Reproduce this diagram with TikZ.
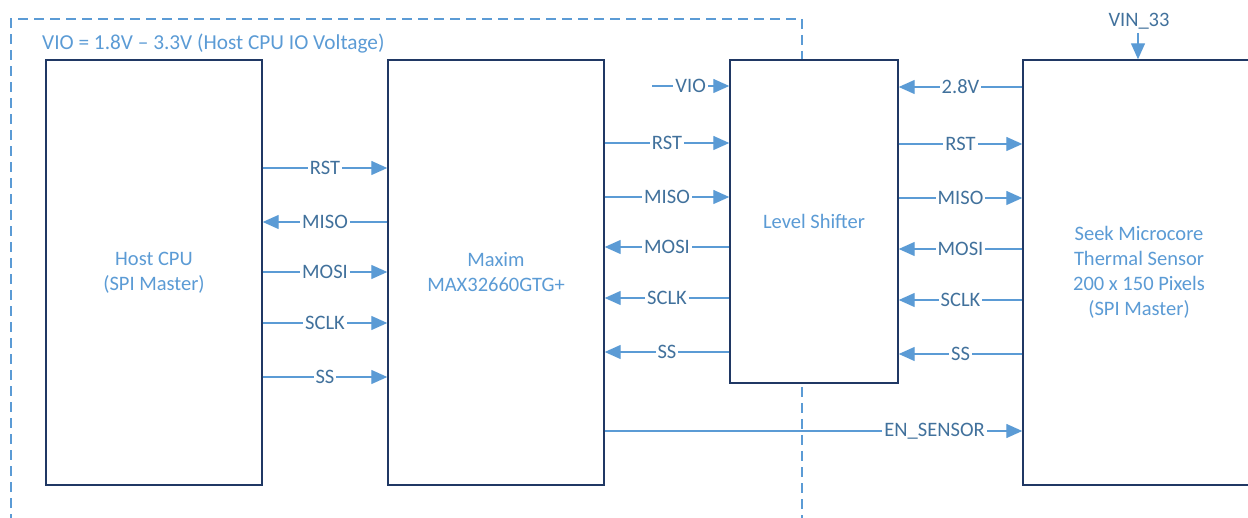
\documentclass[tikz,border=0pt]{standalone}
\usepackage{fontspec}
\setmainfont{Carlito}
\usetikzlibrary{arrows.meta}
\definecolor{navy}{HTML}{203864}
\definecolor{lblue}{HTML}{5B9BD5}
\definecolor{dblue}{HTML}{41719C}
\tikzset{
  blk/.style={draw=navy, line width=1.4pt, fill=white, align=center, text=lblue,
    font=\fontsize{20.5}{25}\selectfont, inner sep=0pt},
  sig/.style={draw=lblue, line width=1.3pt, -{Triangle[length=16pt,width=14pt]}},
  lab/.style={fill=white, text=dblue, inner sep=2pt, font=\fontsize{20.5}{24}\selectfont},
  zone/.style={draw=lblue, line width=1.2pt, dash pattern=on 10pt off 6pt}
}
\begin{document}
\begin{tikzpicture}[x=1pt,y=-1pt]
\useasboundingbox (0,0) rectangle (1248,518);
% dashed zone
\draw[zone] (11,540) -- (11,19) -- (802,19) -- (802,540);
\node[anchor=west, text=lblue, inner sep=0pt, font=\fontsize{21.3}{24}\selectfont] (zonelabel) at (42,44) {VIO = 1.8V – 3.3V (Host CPU IO Voltage)};
% blocks
\node[blk, minimum width=216pt, minimum height=425pt] (host) at (154,272.5) {Host CPU\\(SPI Master)};
\node[blk, minimum width=216pt, minimum height=425pt] (maxim) at (496,272.5) {Maxim\\MAX32660GTG+};
\node[blk, minimum width=168pt, minimum height=323pt] (ls) at (814,221.5) {Level Shifter};
\node[blk, minimum width=232pt, minimum height=425pt] (sensor) at (1139,272.5) {Seek Microcore\\Thermal Sensor\\200 x 150 Pixels\\(SPI Master)};
% host <-> maxim
\draw[sig] (host.east |- 0,168) -- node[lab]{RST} (maxim.west |- 0,168);
\draw[sig] (maxim.west |- 0,222) -- node[lab]{MISO} (host.east |- 0,222);
\draw[sig] (host.east |- 0,272) -- node[lab]{MOSI} (maxim.west |- 0,272);
\draw[sig] (host.east |- 0,323) -- node[lab]{SCLK} (maxim.west |- 0,323);
\draw[sig] (host.east |- 0,377) -- node[lab]{SS} (maxim.west |- 0,377);
% maxim <-> level shifter
\coordinate (vioin) at (652,86);
\draw[sig] (vioin) -- node[lab]{VIO} (ls.west |- vioin);
\draw[sig] (maxim.east |- 0,143) -- node[lab]{RST} (ls.west |- 0,143);
\draw[sig] (maxim.east |- 0,197) -- node[lab]{MISO} (ls.west |- 0,197);
\draw[sig] (ls.west |- 0,247) -- node[lab]{MOSI} (maxim.east |- 0,247);
\draw[sig] (ls.west |- 0,298) -- node[lab]{SCLK} (maxim.east |- 0,298);
\draw[sig] (ls.west |- 0,352) -- node[lab]{SS} (maxim.east |- 0,352);
% level shifter <-> sensor
\draw[sig] (sensor.west |- 0,87) -- node[lab]{2.8V} (ls.east |- 0,87);
\draw[sig] (ls.east |- 0,144) -- node[lab]{RST} (sensor.west |- 0,144);
\draw[sig] (ls.east |- 0,198) -- node[lab]{MISO} (sensor.west |- 0,198);
\draw[sig] (sensor.west |- 0,249) -- node[lab]{MOSI} (ls.east |- 0,249);
\draw[sig] (sensor.west |- 0,300) -- node[lab]{SCLK} (ls.east |- 0,300);
\draw[sig] (sensor.west |- 0,354) -- node[lab]{SS} (ls.east |- 0,354);
% enable
\draw[sig] (maxim.east |- 0,431) -- node[lab, pos=0.79]{EN\_SENSOR} (sensor.west |- 0,431);
% VIN
\coordinate (vin) at (1138,33);
\node[text=dblue, inner sep=0pt, font=\fontsize{20.5}{24}\selectfont, anchor=base] (vinlabel) at (1139,27) {VIN\_33};
\draw[sig] (vin) -- (vin |- sensor.north);
\end{tikzpicture}
\end{document}
